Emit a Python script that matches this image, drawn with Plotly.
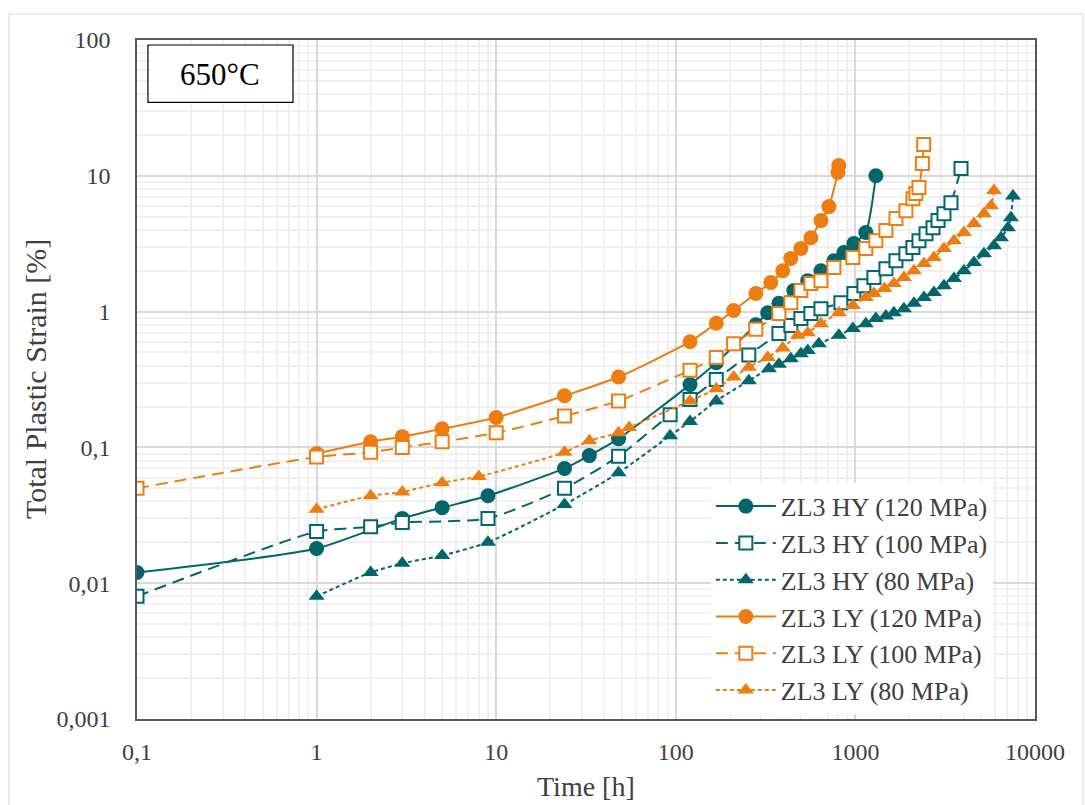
import plotly.graph_objects as go

# ---- creep curves at 650 °C: time [h] vs total plastic strain [%] ----
hy120_t = [0.1, 1, 3, 5, 9, 24, 33, 48, 120, 168, 279, 325, 375, 454, 543, 643, 759, 863, 981, 1143, 1300]
hy120_s = [0.012, 0.018, 0.03, 0.036, 0.044, 0.07, 0.087, 0.116, 0.29, 0.42, 0.80, 0.98, 1.15, 1.43, 1.69,
           2.0, 2.37, 2.72, 3.17, 3.82, 10.0]

hy100_t = [0.1, 1, 2, 3, 9, 24, 48, 93, 120, 168, 255, 375, 437, 497, 565, 643, 830, 981, 1115, 1268,
           1479, 1682, 1911, 2091, 2259, 2473, 2705, 2885, 3113, 3406, 3874]
hy100_s = [0.008, 0.024, 0.026, 0.028, 0.03, 0.05, 0.086, 0.174, 0.225, 0.316, 0.48, 0.69, 0.79, 0.89,
           0.97, 1.05, 1.16, 1.36, 1.55, 1.78, 2.07, 2.37, 2.67, 2.96, 3.33, 3.75, 4.15, 4.68, 5.26, 6.34, 11.3]

hy80_t = [1, 2, 3, 5, 9, 24, 48, 93, 120, 168, 255, 330, 375, 437, 497, 543, 626, 809, 968, 1143, 1300,
          1479, 1638, 1863, 2118, 2409, 2736, 3113, 3540, 4021, 4571, 5197, 5910, 6460, 7070, 7340, 7540]
hy80_s = [0.008, 0.012, 0.014, 0.016, 0.02, 0.038, 0.065, 0.122, 0.155, 0.22, 0.31, 0.38, 0.41, 0.45,
          0.49, 0.516, 0.58, 0.67, 0.75, 0.815, 0.89, 0.93, 0.98, 1.05, 1.15, 1.27, 1.38, 1.55, 1.75, 2.0,
          2.3, 2.67, 3.06, 3.5, 4.15, 4.9, 7.1]

ly120_t = [1, 2, 3, 5, 10, 24, 48, 120, 168, 210, 279, 338, 394, 437, 497, 565, 643, 712, 799, 808]
ly120_s = [0.09, 0.11, 0.12, 0.137, 0.166, 0.24, 0.33, 0.6, 0.82, 1.02, 1.36, 1.64, 2.0, 2.46, 2.91, 3.5,
           4.68, 5.93, 10.6, 11.9]

ly100_t = [0.1, 1, 2, 3, 5, 10, 24, 48, 120, 168, 210, 279, 375, 437, 497, 565, 643, 759, 968, 1143, 1300,
           1479, 1682, 1911, 2091, 2170, 2259, 2360, 2400]
ly100_s = [0.05, 0.085, 0.092, 0.1, 0.11, 0.128, 0.17, 0.22, 0.37, 0.46, 0.58, 0.74, 0.97, 1.16, 1.43,
           1.61, 1.69, 2.11, 2.5, 2.91, 3.33, 3.95, 4.84, 5.54, 6.79, 7.4, 8.2, 12.3, 17.0]

ly80_t = [1, 2, 3, 5, 8, 24, 33, 48, 55, 120, 168, 210, 255, 325, 394, 478, 543, 643, 809, 968, 1143, 1268,
          1450, 1638, 1863, 2118, 2409, 2736, 3113, 3540, 4021, 4571, 5197, 5690, 5910]
ly80_s = [0.035, 0.044, 0.047, 0.055, 0.061, 0.092, 0.112, 0.128, 0.14, 0.22, 0.27, 0.33, 0.39, 0.46, 0.54,
          0.67, 0.70, 0.815, 0.98, 1.11, 1.27, 1.36, 1.48, 1.61, 1.78, 2.0, 2.26, 2.5, 2.91, 3.33, 3.82,
          4.45, 5.26, 6.03, 7.8]

series_names = ["ZL3 HY (120 MPa)", "ZL3 HY (100 MPa)", "ZL3 HY (80 MPa)",
                "ZL3 LY (120 MPa)", "ZL3 LY (100 MPa)", "ZL3 LY (80 MPa)"]

x_tick_vals = [0.1, 1, 10, 100, 1000, 10000]
x_tick_text = ["0,1", "1", "10", "100", "1000", "10000"]
y_tick_vals = [0.001, 0.01, 0.1, 1, 10, 100]
y_tick_text = ["0,001", "0,01", "0,1", "1", "10", "100"]

TEAL = "#02666b"
ORANGE = "#ee7d11"
FONT = "Liberation Serif"
TXT = "#404040"

styles = [
    dict(color=TEAL, symbol="circle", dash="solid", open=False),
    dict(color=TEAL, symbol="square", dash="12px,7px", open=True),
    dict(color=TEAL, symbol="triangle-up", dash="4px,3px", open=False),
    dict(color=ORANGE, symbol="circle", dash="solid", open=False),
    dict(color=ORANGE, symbol="square", dash="12px,7px", open=True),
    dict(color=ORANGE, symbol="triangle-up", dash="4px,3px", open=False),
]
data = [(hy120_t, hy120_s), (hy100_t, hy100_s), (hy80_t, hy80_s),
        (ly120_t, ly120_s), (ly100_t, ly100_s), (ly80_t, ly80_s)]

fig = go.Figure()
for (t, s), name, st in zip(data, series_names, styles):
    if st["open"]:
        marker = dict(symbol=st["symbol"], size=13, color="white",
                      line=dict(color=st["color"], width=2))
    else:
        marker = dict(symbol=st["symbol"], size=15 if st["symbol"] == "circle" else 14,
                      color=st["color"], line=dict(width=0))
    fig.add_trace(go.Scatter(
        x=t, y=s, name=name, mode="lines+markers",
        line=dict(color=st["color"], width=2, dash=st["dash"], shape="spline", smoothing=0.6),
        marker=marker,
    ))

# minor grid positions (2..9 within each decade)
x_minor = [k * 10 ** e for e in range(-1, 4) for k in range(2, 10)]
y_minor = [k * 10 ** e for e in range(-3, 2) for k in range(2, 10)]

axis_common = dict(
    type="log", showline=True, linecolor="#595959", linewidth=1.5, mirror=True,
    showgrid=True, gridcolor="#d9d9d9", gridwidth=1.5, zeroline=False, ticks="",
    tickfont=dict(family=FONT, size=24, color=TXT),
)
fig.update_xaxes(
    **axis_common, range=[-1, 4], tickmode="array", tickvals=x_tick_vals, ticktext=x_tick_text,
    minor=dict(tickmode="array", tickvals=x_minor, showgrid=True, gridcolor="#f0f0f0", gridwidth=1.5),
    ticklabelstandoff=10,
)
fig.update_yaxes(
    **axis_common, range=[-3, 2], tickmode="array", tickvals=y_tick_vals, ticktext=y_tick_text,
    minor=dict(tickmode="array", tickvals=y_minor, showgrid=True, gridcolor="#f0f0f0", gridwidth=1.5),
    ticklabelstandoff=20,
)

fig.update_layout(
    width=1085, height=805,
    margin=dict(l=137, r=50, t=40, b=86),
    paper_bgcolor="white", plot_bgcolor="white",
    font=dict(family=FONT, color=TXT),
    showlegend=True,
    legend=dict(
        x=0.639, y=0.348, xanchor="left", yanchor="top",
        bgcolor="white", borderwidth=0, itemwidth=60, tracegroupgap=0,
        font=dict(family=FONT, size=26, color=TXT),
    ),
    annotations=[
        dict(text="650°C", xref="paper", yref="paper", x=0.092, y=0.949, showarrow=False,
             font=dict(family=FONT, size=31, color="black"), xanchor="center", yanchor="middle"),
        dict(text="Total Plastic Strain [%]", xref="paper", yref="paper", x=-0.113, y=0.5,
             textangle=-90, showarrow=False, xanchor="center", yanchor="middle",
             font=dict(family=FONT, size=30, color=TXT)),
        dict(text="Time [h]", xref="paper", yref="paper", x=0.5, y=-0.1, showarrow=False,
             xanchor="center", yanchor="middle", font=dict(family=FONT, size=28, color=TXT)),
    ],
    shapes=[
        # temperature label box
        dict(type="rect", xref="paper", yref="paper", x0=0.0122, x1=0.1737, y0=0.908, y1=0.9926,
             line=dict(color="black", width=1.2), fillcolor="white", layer="above"),
        # outer chart frame
        dict(type="rect", xref="paper", yref="paper", x0=-0.1425, x1=1.0535, y0=-0.14, y1=1.0383,
             line=dict(color="#d9d9d9", width=1), fillcolor="rgba(0,0,0,0)", layer="below"),
    ],
)

fig.write_html("out.html")
